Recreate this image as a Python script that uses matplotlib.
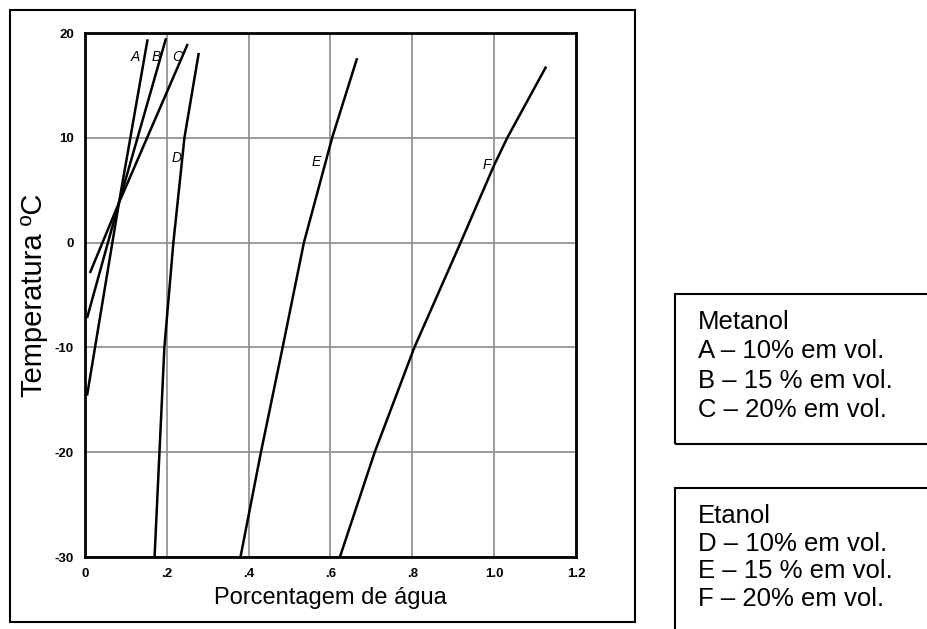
import matplotlib.pyplot as plt
from matplotlib.patches import Rectangle

plt.rcParams["font.family"] = ["Liberation Sans", "DejaVu Sans"]

# freezing curves: water fraction (x) against temperature (y)
temp_a = [-14.6, 3.8, 19.4]
water_a = [0.005, 0.083, 0.153]
temp_b = [-7.2, 3.8, 19.5]
water_b = [0.005, 0.083, 0.198]
temp_c = [-2.9, 3.8, 18.95]
water_c = [0.012, 0.083, 0.251]
temp_d = [-30, -20, -10, 0, 10, 18.1]
water_d = [0.170, 0.182, 0.194, 0.216, 0.243, 0.278]
temp_e = [-30, -20, -10, 0, 10, 17.6]
water_e = [0.380, 0.430, 0.483, 0.535, 0.604, 0.665]
temp_f = [-30, -20, -10, 0, 7.4, 10, 16.8]
water_f = [0.623, 0.708, 0.805, 0.918, 1.000, 1.032, 1.127]

curve_labels = ["A", "B", "C", "D", "E", "F"]
label_x = [0.124, 0.174, 0.225, 0.225, 0.565, 0.982]
label_y = [17.7, 17.7, 17.7, 8.1, 7.7, 7.4]

x_ticks = [0, 0.2, 0.4, 0.6, 0.8, 1.0, 1.2]
x_ticklabels = ["0", ".2", ".4", ".6", ".8", "1.0", "1.2"]
y_ticks = [-30, -20, -10, 0, 10, 20]
y_ticklabels = ["-30", "-20", "-10", "0", "10", "20"]

metanol_lines = ["Metanol", "A – 10% em vol.", "B – 15 % em vol.", "C – 20% em vol."]
etanol_lines = ["Etanol", "D – 10% em vol.", "E – 15 % em vol.", "F – 20% em vol."]

fig = plt.figure(figsize=(9.28, 6.29), dpi=100)
ax = fig.add_axes([85 / 928, 1 - 557 / 629, 491 / 928, 524 / 629])

ax.grid(True, color="#939393", linewidth=1.3)
ax.set_axisbelow(True)

for xs, ys in [(water_a, temp_a), (water_b, temp_b), (water_c, temp_c),
               (water_d, temp_d), (water_e, temp_e), (water_f, temp_f)]:
    ax.plot(xs, ys, color="black", linewidth=1.8, solid_capstyle="butt")

for lab, lx, ly in zip(curve_labels, label_x, label_y):
    ax.text(lx, ly, lab, fontsize=10, style="italic", ha="center", va="center")

ax.set_xlim(0, 1.2)
ax.set_ylim(-30, 20)
ax.set_xticks(x_ticks)
ax.set_xticklabels(x_ticklabels, fontweight="bold", fontsize=9.5)
ax.set_yticks(y_ticks)
ax.set_yticklabels(y_ticklabels, fontweight="bold", fontsize=9.5)
ax.tick_params(length=0, pad=8)
for sp in ax.spines.values():
    sp.set_linewidth(2)

ax.set_xlabel("Porcentagem de água", fontsize=17, labelpad=5)
ax.set_ylabel("Temperatura ºC", fontsize=21, labelpad=5)

# outer frame around the chart
fig.patches.append(Rectangle((10 / 928, 1 - 622 / 629), 625 / 928, 612 / 629,
                             transform=fig.transFigure, fill=False,
                             edgecolor="black", linewidth=1.5))

# legend boxes
fig.patches.append(Rectangle((675 / 928, 1 - 444 / 629), 0.4, 150 / 629,
                             transform=fig.transFigure, fill=False,
                             edgecolor="black", linewidth=1.5))
fig.patches.append(Rectangle((675 / 928, -0.1), 0.4, 0.1 + 141 / 629,
                             transform=fig.transFigure, fill=False,
                             edgecolor="black", linewidth=1.5))

fig.text(698 / 928, 1 - 310 / 629, "\n".join(metanol_lines), fontsize=18.5,
         va="top", ha="left", linespacing=1.28)
fig.text(698 / 928, 1 - 504 / 629, "\n".join(etanol_lines), fontsize=18.5,
         va="top", ha="left", linespacing=1.19)

fig.savefig("out.png", dpi=100)
